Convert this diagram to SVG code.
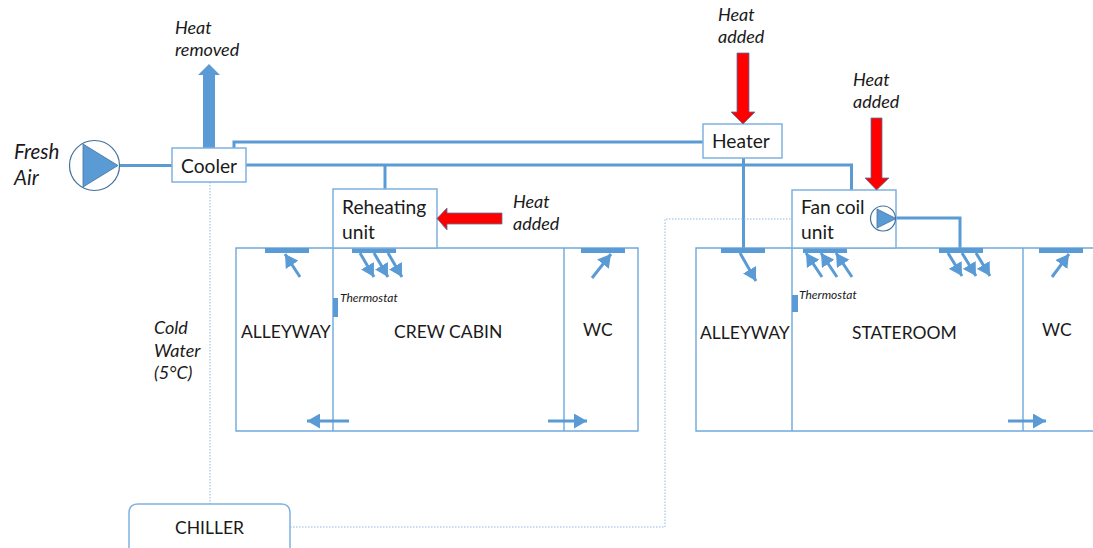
<svg xmlns="http://www.w3.org/2000/svg" width="1093" height="548" viewBox="0 0 1093 548">
<style>
text{font-family:"Lato","Open Sans","Liberation Sans",sans-serif;fill:#1a1a1a}
.l{font-size:19.200px}
.u{font-size:17.500px}
.h{font-size:18px;font-style:italic}
.f{font-size:20.500px;font-style:italic}
.t{font-size:12px;font-style:italic}
.box{fill:#fff;stroke:#7fb1e0;stroke-width:1.5}
.pipe{fill:none;stroke:#5b9bd5;stroke-width:3}
.wall{fill:none;stroke:#6fa8dc;stroke-width:1.400}
.dot{fill:none;stroke:#8fb9e0;stroke-width:1;stroke-dasharray:1.500 1.500}
.air{stroke:#5b9bd5;stroke-width:3;fill:none;marker-end:url(#ah)}
.solid{fill:#5b9bd5}
.red{fill:#f00;stroke:#4a7ba8;stroke-width:.8}
.pump{fill:#fff;stroke:#41719c;stroke-width:1.200}
.tri{fill:#5b9bd5;stroke:#41719c;stroke-width:.8}
</style>
<defs>
<marker id="ah" markerUnits="userSpaceOnUse" markerWidth="13" markerHeight="15" refX="13" refY="7.500" orient="auto" viewBox="0 0 13 15"><path d="M0 0L13 7.500L0 15Z" fill="#5b9bd5"/></marker>
</defs>
<rect width="1093" height="548" fill="#fff"/>
<g id="connectors">
<path class="pipe" d="M119 165.500H172"/>
<path class="pipe" d="M234 148V142H704"/>
<path class="pipe" d="M246 165H851.500V190"/>
<path class="pipe" d="M385 165V189"/>
<path class="pipe" d="M743.500 158V248"/>
<path class="pipe" d="M896 218H960V248"/>
<path class="dot" d="M210 182V504"/>
<path class="dot" d="M290 527H665V219H792"/>
</g>
<g id="rooms-crew">
<path class="wall" d="M333 248H236V431H638V248H333V431M564 248V431"/>
<rect class="solid" x="333" y="298" width="5" height="19"/>
<rect class="solid" x="265" y="248" width="44" height="5"/>
<rect class="solid" x="352" y="248" width="44" height="5"/>
<rect class="solid" x="581" y="248" width="44" height="5"/>
<path class="air" d="M300 277L285 254"/>
<path class="air" d="M360 253L374 277"/>
<path class="air" d="M374 253L388 277"/>
<path class="air" d="M388 253L402 277"/>
<path class="air" d="M592 278L611 254"/>
<path class="air" d="M349 421H307"/>
<path class="air" d="M548 421H587"/>
</g>
<g id="rooms-state">
<path class="wall" d="M1093 248H696V431H1093M792 248V431M1023 248V431"/>
<rect class="solid" x="792" y="295" width="6" height="17"/>
<rect class="solid" x="721" y="248" width="44" height="5"/>
<rect class="solid" x="803" y="248" width="44" height="5"/>
<rect class="solid" x="939" y="248" width="44" height="5"/>
<rect class="solid" x="1039" y="248" width="44" height="5"/>
<path class="air" d="M740 253L756 281"/>
<path class="air" d="M822 277L806 253"/>
<path class="air" d="M837 277L821 253"/>
<path class="air" d="M852 277L836 253"/>
<path class="air" d="M948 253L962 276"/>
<path class="air" d="M962 253L976 276"/>
<path class="air" d="M976 253L990 276"/>
<path class="air" d="M1052 277L1069 254"/>
<path class="air" d="M1008 421H1046"/>
</g>
<g id="fresh-air">
<circle class="pump" cx="94.500" cy="165.500" r="25"/>
<path class="tri" d="M83 144L118 165.500L83 187Z"/>
<text class="f" x="14" y="159">Fresh</text>
<text class="f" x="14" y="185">Air</text>
</g>
<g id="cooler">
<path class="solid" d="M203 148V75H198L209 64L220 75H215V148Z"/>
<rect class="box" x="172" y="148" width="74" height="34"/>
<text class="l" x="181" y="173">Cooler</text>
<text class="h" x="175" y="34">Heat</text>
<text class="h" x="175" y="56">removed</text>
</g>
<g id="heater">
<rect class="box" x="703" y="124" width="79" height="34"/>
<text class="l" x="712" y="148">Heater</text>
<path class="red" d="M737 53H749V112H755L743 124L731 112H737Z"/>
<text class="h" x="718" y="21">Heat</text>
<text class="h" x="718" y="43">added</text>
</g>
<g id="reheating-unit">
<rect class="box" x="333" y="189" width="104" height="59"/>
<text class="l" x="342" y="214">Reheating</text>
<text class="l" x="342" y="239">unit</text>
<path class="red" d="M502 213V224H447V230L437 218.500L447 208V213Z"/>
<text class="h" x="513" y="208">Heat</text>
<text class="h" x="513" y="230">added</text>
</g>
<g id="fan-coil-unit">
<rect class="box" x="792" y="190" width="104" height="58"/>
<text class="l" x="801" y="214">Fan coil</text>
<text class="l" x="801" y="239">unit</text>
<circle class="pump" cx="883" cy="218.500" r="12.500"/>
<path class="tri" d="M877 209L896 218.500L877 228Z"/>
<path class="red" d="M871 118H882V178H889L876.500 190L865 178H871Z"/>
<text class="h" x="853" y="86">Heat</text>
<text class="h" x="853" y="108">added</text>
</g>
<g id="chiller">
<path class="box" d="M129 548V513Q129 504 138 504H281Q290 504 290 513V548"/>
<text class="u" x="175" y="534">CHILLER</text>
</g>
<g id="labels">
<text class="t" x="340" y="302">Thermostat</text>
<text class="t" x="799" y="299">Thermostat</text>
<text class="u" x="241" y="338">ALLEYWAY</text>
<text class="u" x="394" y="338">CREW CABIN</text>
<text class="u" x="583" y="336">WC</text>
<text class="u" x="700" y="339">ALLEYWAY</text>
<text class="u" x="852" y="339">STATEROOM</text>
<text class="u" x="1042" y="336">WC</text>
<text class="h" x="154" y="334">Cold</text>
<text class="h" x="154" y="357">Water</text>
<text class="h" x="154" y="379">(5°C)</text>
</g>
</svg>
